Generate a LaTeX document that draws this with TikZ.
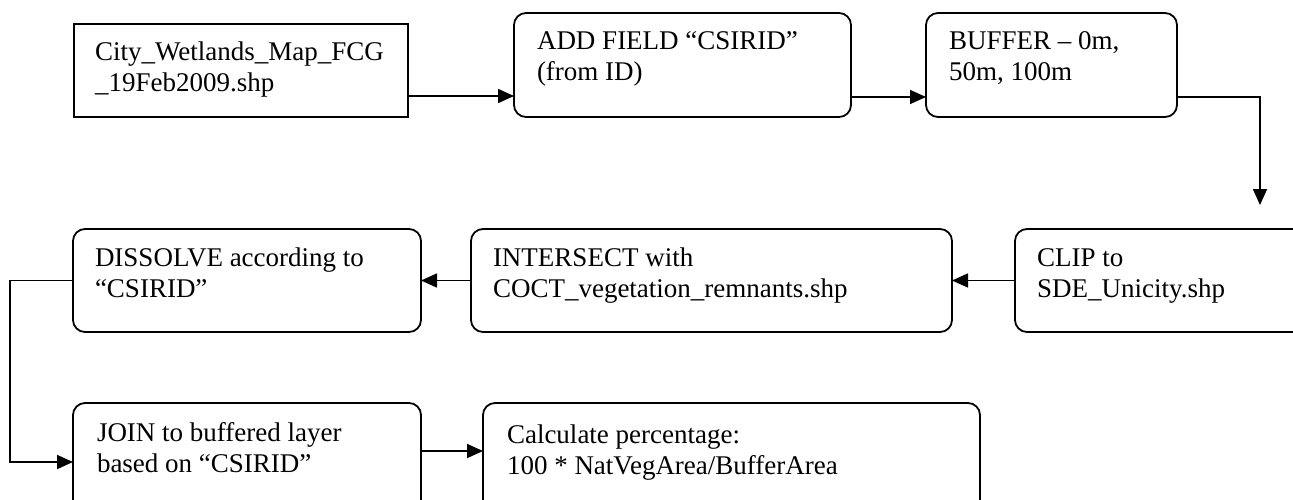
\documentclass[tikz,border=0pt]{standalone}
\usepackage{fontspec}
\setmainfont{Liberation Serif}
\usetikzlibrary{arrows.meta,calc}
\begin{document}
\begin{tikzpicture}[x=1pt,y=-1pt,
  box/.style={draw, line width=1.8pt, rounded corners=12pt, inner sep=0pt, outer sep=0pt, anchor=north west},
  sqbox/.style={box, sharp corners},
  txt/.style={anchor=north west, inner sep=0pt, outer sep=0pt, align=left, font=\fontsize{27}{31}\selectfont},
  arr/.style={line width=1.6pt, -{Triangle[length=16pt,width=14pt]}}]
\path[use as bounding box] (0,0) rectangle (1293,499);
\clip (0,0) rectangle (1293,499);
% boxes
\node[sqbox, minimum width=334pt, minimum height=93pt]  (src)   at (74,24)   {};
\node[box,   minimum width=337pt, minimum height=104pt] (add)   at (514,13)  {};
\node[box,   minimum width=251pt, minimum height=104pt] (buf)   at (926,13)  {};
\node[box,   minimum width=330pt, minimum height=103pt] (clipb) at (1015,229) {};
\node[box,   minimum width=481pt, minimum height=103pt] (inter) at (471,229) {};
\node[box,   minimum width=348pt, minimum height=103pt] (diss)  at (73,229)  {};
\node[box,   minimum width=348pt, minimum height=118pt] (join)  at (73,403)  {};
\node[box,   minimum width=497pt, minimum height=118pt] (calc)  at (483,403) {};
% texts
\node[txt] (srct)   at ([shift={(21pt,-15pt)}]src.north west)   {\strut City\_Wetlands\_Map\_FCG\\\_19Feb2009.shp};
\node[txt] (addt)   at ([shift={(23pt,-15pt)}]add.north west)   {\strut ADD FIELD “CSIRID”\\(from ID)};
\node[txt] (buft)   at ([shift={(23pt,-15pt)}]buf.north west)   {\strut BUFFER – 0m,\\50m, 100m};
\node[txt] (clipt)  at ([shift={(22pt,-16pt)}]clipb.north west) {\strut CLIP to\\SDE\_Unicity.shp};
\node[txt] (intert) at ([shift={(22pt,-16pt)}]inter.north west) {\strut INTERSECT with\\COCT\_vegetation\_remnants.shp};
\node[txt] (disst)  at ([shift={(22pt,-16pt)}]diss.north west)  {\strut DISSOLVE according to\\“CSIRID”};
\node[txt] (joint)  at ([shift={(24pt,-17pt)}]join.north west)  {\strut JOIN to buffered layer\\based on “CSIRID”};
\node[txt] (calct)  at ([shift={(24pt,-19pt)}]calc.north west)  {\strut Calculate percentage:\\100 * NatVegArea/BufferArea};
% connectors
\coordinate (drop) at (1260,205);
\draw[arr] ([yshift=21pt]src.south east) -- ([yshift=21pt]add.south west);
\draw[arr] ([yshift=20pt]add.south east) -- ([yshift=20pt]buf.south west);
\draw[arr] ([yshift=20pt]buf.south east) -| (drop);
\draw[arr] (clipb.west) -- (inter.east);
\draw[arr] (inter.west) -- (diss.east);
\draw[arr] (diss.west) -- ++(-63,0) |- (join.west);
\draw[arr] ([yshift=11pt]join.east) -- ([yshift=11pt]calc.west);
\end{tikzpicture}
\end{document}
